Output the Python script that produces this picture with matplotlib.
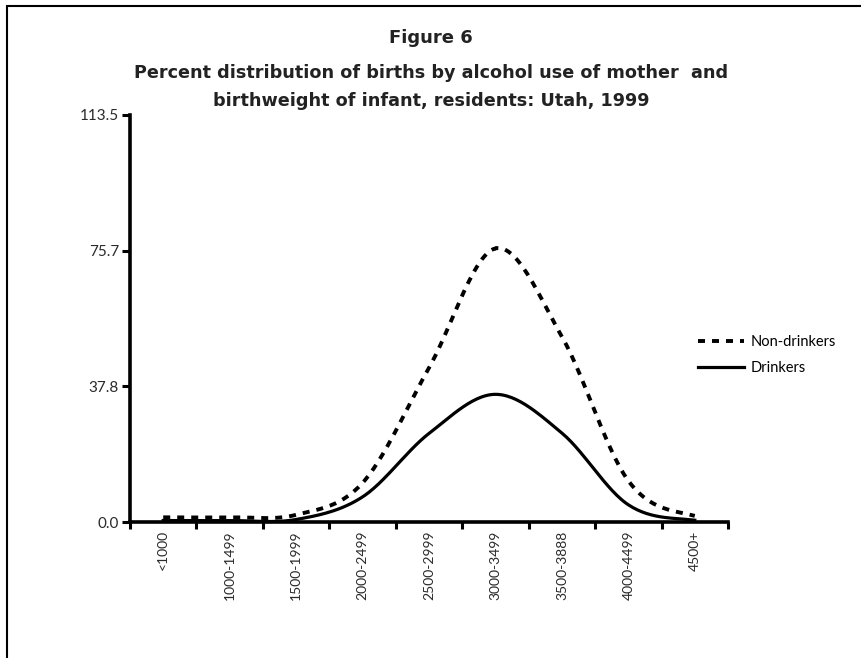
import numpy as np
import matplotlib
matplotlib.use("Agg")
import matplotlib.pyplot as plt
from matplotlib.patches import Rectangle

weights = ["<1000", "1000-1499", "1500-1999", "2000-2499", "2500-2999",
           "3000-3499", "3500-3888", "4000-4499", "4500+"]
non_drinkers = [1.3, 1.3, 2.0, 10.9, 43.0, 76.3, 51.7, 11.5, 1.7]
drinkers = [0.4, 0.4, 0.7, 7.0, 24.7, 35.6, 24.8, 4.8, 0.5]
y_ticks = [0.0, 37.8, 75.7, 113.5]


def smooth(xs, ys, n=30):
    # Catmull-Rom curve through the points, like a spreadsheet "smoothed line"
    xs = np.asarray(xs, float)
    ys = np.asarray(ys, float)
    px = np.concatenate([[2 * xs[0] - xs[1]], xs, [2 * xs[-1] - xs[-2]]])
    py = np.concatenate([[ys[0]], ys, [ys[-1]]])
    out_x, out_y = [], []
    t = np.linspace(0, 1, n)
    for i in range(1, len(px) - 2):
        for p, out in ((px, out_x), (py, out_y)):
            p0, p1, p2, p3 = p[i - 1], p[i], p[i + 1], p[i + 2]
            out.extend(0.5 * ((2 * p1) + (-p0 + p2) * t
                              + (2 * p0 - 5 * p1 + 4 * p2 - p3) * t ** 2
                              + (-p0 + 3 * p1 - 3 * p2 + p3) * t ** 3))
    return np.array(out_x), np.array(out_y)


fig = plt.figure(figsize=(8.62, 6.58), dpi=100)
fig.patches.append(Rectangle((7 / 862, -0.1), 1.2, 1 - 6 / 658 + 0.1,
                             transform=fig.transFigure, fill=False,
                             edgecolor="black", linewidth=1.5))

ax = fig.add_axes([130 / 862, 1 - 522 / 658, 598 / 862, 407 / 658])

pos = np.arange(len(weights)) + 0.5
sx, sy = smooth(pos, non_drinkers)
ax.plot(sx, sy, color="black", linewidth=2.8, dashes=(1.8, 1.8),
        label="Non-drinkers", clip_on=False)
sx, sy = smooth(pos, drinkers)
ax.plot(sx, sy, color="black", linewidth=2.3, label="Drinkers", clip_on=False)

lbl_font = ["Lato", "DejaVu Sans"]
ax.set_xlim(0, len(weights))
ax.set_ylim(0, 113.5)
ax.set_yticks(y_ticks)
ax.set_yticklabels(["%.1f" % v for v in y_ticks], fontsize=11,
                   color="#2a2a2a", family=lbl_font)
ax.set_xticks(np.arange(len(weights) + 1))
ax.set_xticklabels([])
ax.set_xticks(pos, minor=True)
ax.set_xticklabels(weights, minor=True, rotation=90, fontsize=10,
                   color="#2a2a2a", family=lbl_font)
ax.tick_params(axis="y", direction="out", length=6, width=2.2, pad=2)
ax.tick_params(axis="x", which="major", direction="out", length=5, width=2.2)
ax.tick_params(axis="x", which="minor", length=0, pad=6)

for side in ("top", "right"):
    ax.spines[side].set_visible(False)
for side in ("left", "bottom"):
    ax.spines[side].set_linewidth(2.6)

fig.text(0.5, 1 - 38 / 658, "Figure 6", ha="center", va="center",
         fontsize=13, fontweight="bold", color="#222222")
fig.text(0.5, 1 - 87 / 658,
         "Percent distribution of births by alcohol use of mother  and\n"
         "birthweight of infant, residents: Utah, 1999",
         ha="center", va="center", fontsize=12.7, fontweight="bold",
         color="#222222", linespacing=1.75)

ax.legend(loc="center left", bbox_to_anchor=(692 / 862, 1 - 355 / 658),
          bbox_transform=fig.transFigure, frameon=False,
          prop={"family": lbl_font, "size": 10.5},
          handlelength=3.2, handletextpad=0.4, borderaxespad=0,
          labelspacing=0.8)

fig.savefig("out.png", dpi=100)
